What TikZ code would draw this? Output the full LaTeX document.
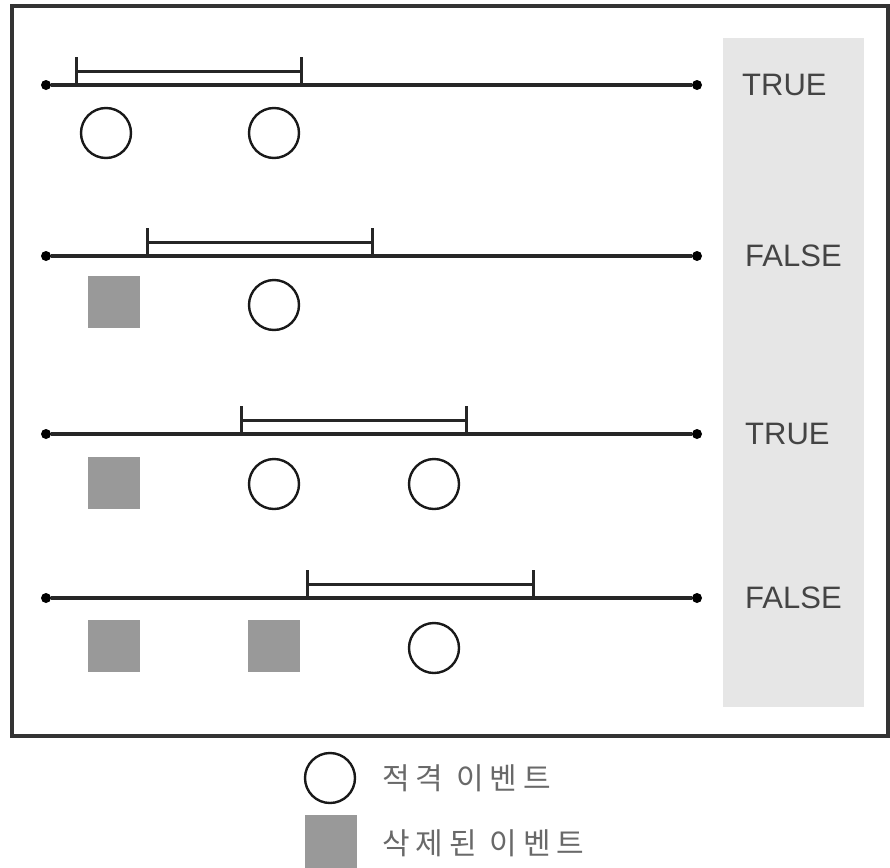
\documentclass[tikz,border=0pt]{standalone}
\usepackage{fontspec}
\setmainfont{Liberation Sans}
\newfontfamily\krfont[LetterSpace=20]{Noto Sans CJK KR}
\usetikzlibrary{positioning}
\definecolor{panelgray}{HTML}{E6E6E6}
\definecolor{dropgray}{HTML}{999999}
\definecolor{labelgray}{HTML}{444444}
\tikzset{
  endpt/.style={circle,fill=black,inner sep=0pt,minimum size=10pt},
  timeline/.style={line width=3.4pt,draw=black!85},
  win/.style={line width=3pt,draw=black!85},
  hit/.style={circle,draw=black!90,line width=2.4pt,minimum size=50pt,inner sep=0pt},
  drop/.style={rectangle,fill=dropgray,minimum size=52pt,inner sep=0pt},
  verdict/.style={font=\fontsize{31}{36}\selectfont,text=labelgray,anchor=west,inner sep=0pt},
  legendtxt/.style={font=\krfont\fontsize{30}{36}\selectfont,text=labelgray!80,anchor=west,inner sep=0pt}
}
\begin{document}
\begin{tikzpicture}[x=1pt,y=-1pt]
  \useasboundingbox (0,0) rectangle (890,867);
  % frame and result panel
  \draw[line width=3.4pt,draw=black!80] (12,6) rectangle (888,736);
  \fill[panelgray] (723,38) rectangle (864,707);

  % row 1
  \node[endpt] (s1) at (46,85) {};
  \node[endpt] (e1) at (697,85) {};
  \draw[timeline] (s1) -- (e1);
  \coordinate (w1l) at (76,57);
  \coordinate (w1r) at (301,57);
  \draw[win] (w1l) -- (w1l |- s1) (w1r) -- (w1r |- s1)
    ([yshift=-14pt]w1l) -- ([yshift=-14pt]w1r);
  \node[hit] (c11) at (106,133) {};
  \node[hit] (c12) at (274,133) {};
  \node[verdict] (v1) at (742,85) {TRUE};

  % row 2
  \node[endpt] (s2) at (46,256) {};
  \node[endpt] (e2) at (697,256) {};
  \draw[timeline] (s2) -- (e2);
  \coordinate (w2l) at (147,228);
  \coordinate (w2r) at (372,228);
  \draw[win] (w2l) -- (w2l |- s2) (w2r) -- (w2r |- s2)
    ([yshift=-14pt]w2l) -- ([yshift=-14pt]w2r);
  \node[drop] (d21) at (114,302) {};
  \node[hit] (c22) at (274,305) {};
  \node[verdict] (v2) at (745,256) {FALSE};

  % row 3
  \node[endpt] (s3) at (46,434) {};
  \node[endpt] (e3) at (697,434) {};
  \draw[timeline] (s3) -- (e3);
  \coordinate (w3l) at (241,406);
  \coordinate (w3r) at (466,406);
  \draw[win] (w3l) -- (w3l |- s3) (w3r) -- (w3r |- s3)
    ([yshift=-14pt]w3l) -- ([yshift=-14pt]w3r);
  \node[drop] (d31) at (114,483) {};
  \node[hit] (c32) at (274,484) {};
  \node[hit] (c33) at (434,484) {};
  \node[verdict] (v3) at (745,434) {TRUE};

  % row 4
  \node[endpt] (s4) at (46,598) {};
  \node[endpt] (e4) at (697,598) {};
  \draw[timeline] (s4) -- (e4);
  \coordinate (w4l) at (307,570);
  \coordinate (w4r) at (533,570);
  \draw[win] (w4l) -- (w4l |- s4) (w4r) -- (w4r |- s4)
    ([yshift=-14pt]w4l) -- ([yshift=-14pt]w4r);
  \node[drop] (d41) at (114,646) {};
  \node[drop] (d42) at (274,646) {};
  \node[hit] (c43) at (434,648) {};
  \node[verdict] (v4) at (745,598) {FALSE};

  % legend
  \node[hit] (lhit) at (330,778) {};
  \node[legendtxt] (lhittxt) at (382,778) {적격 이벤트};
  \node[drop,minimum height=54pt] (ldrop) at (331,842) {};
  \node[legendtxt] (ldroptxt) at (382,843) {삭제된 이벤트};
\end{tikzpicture}
\end{document}
